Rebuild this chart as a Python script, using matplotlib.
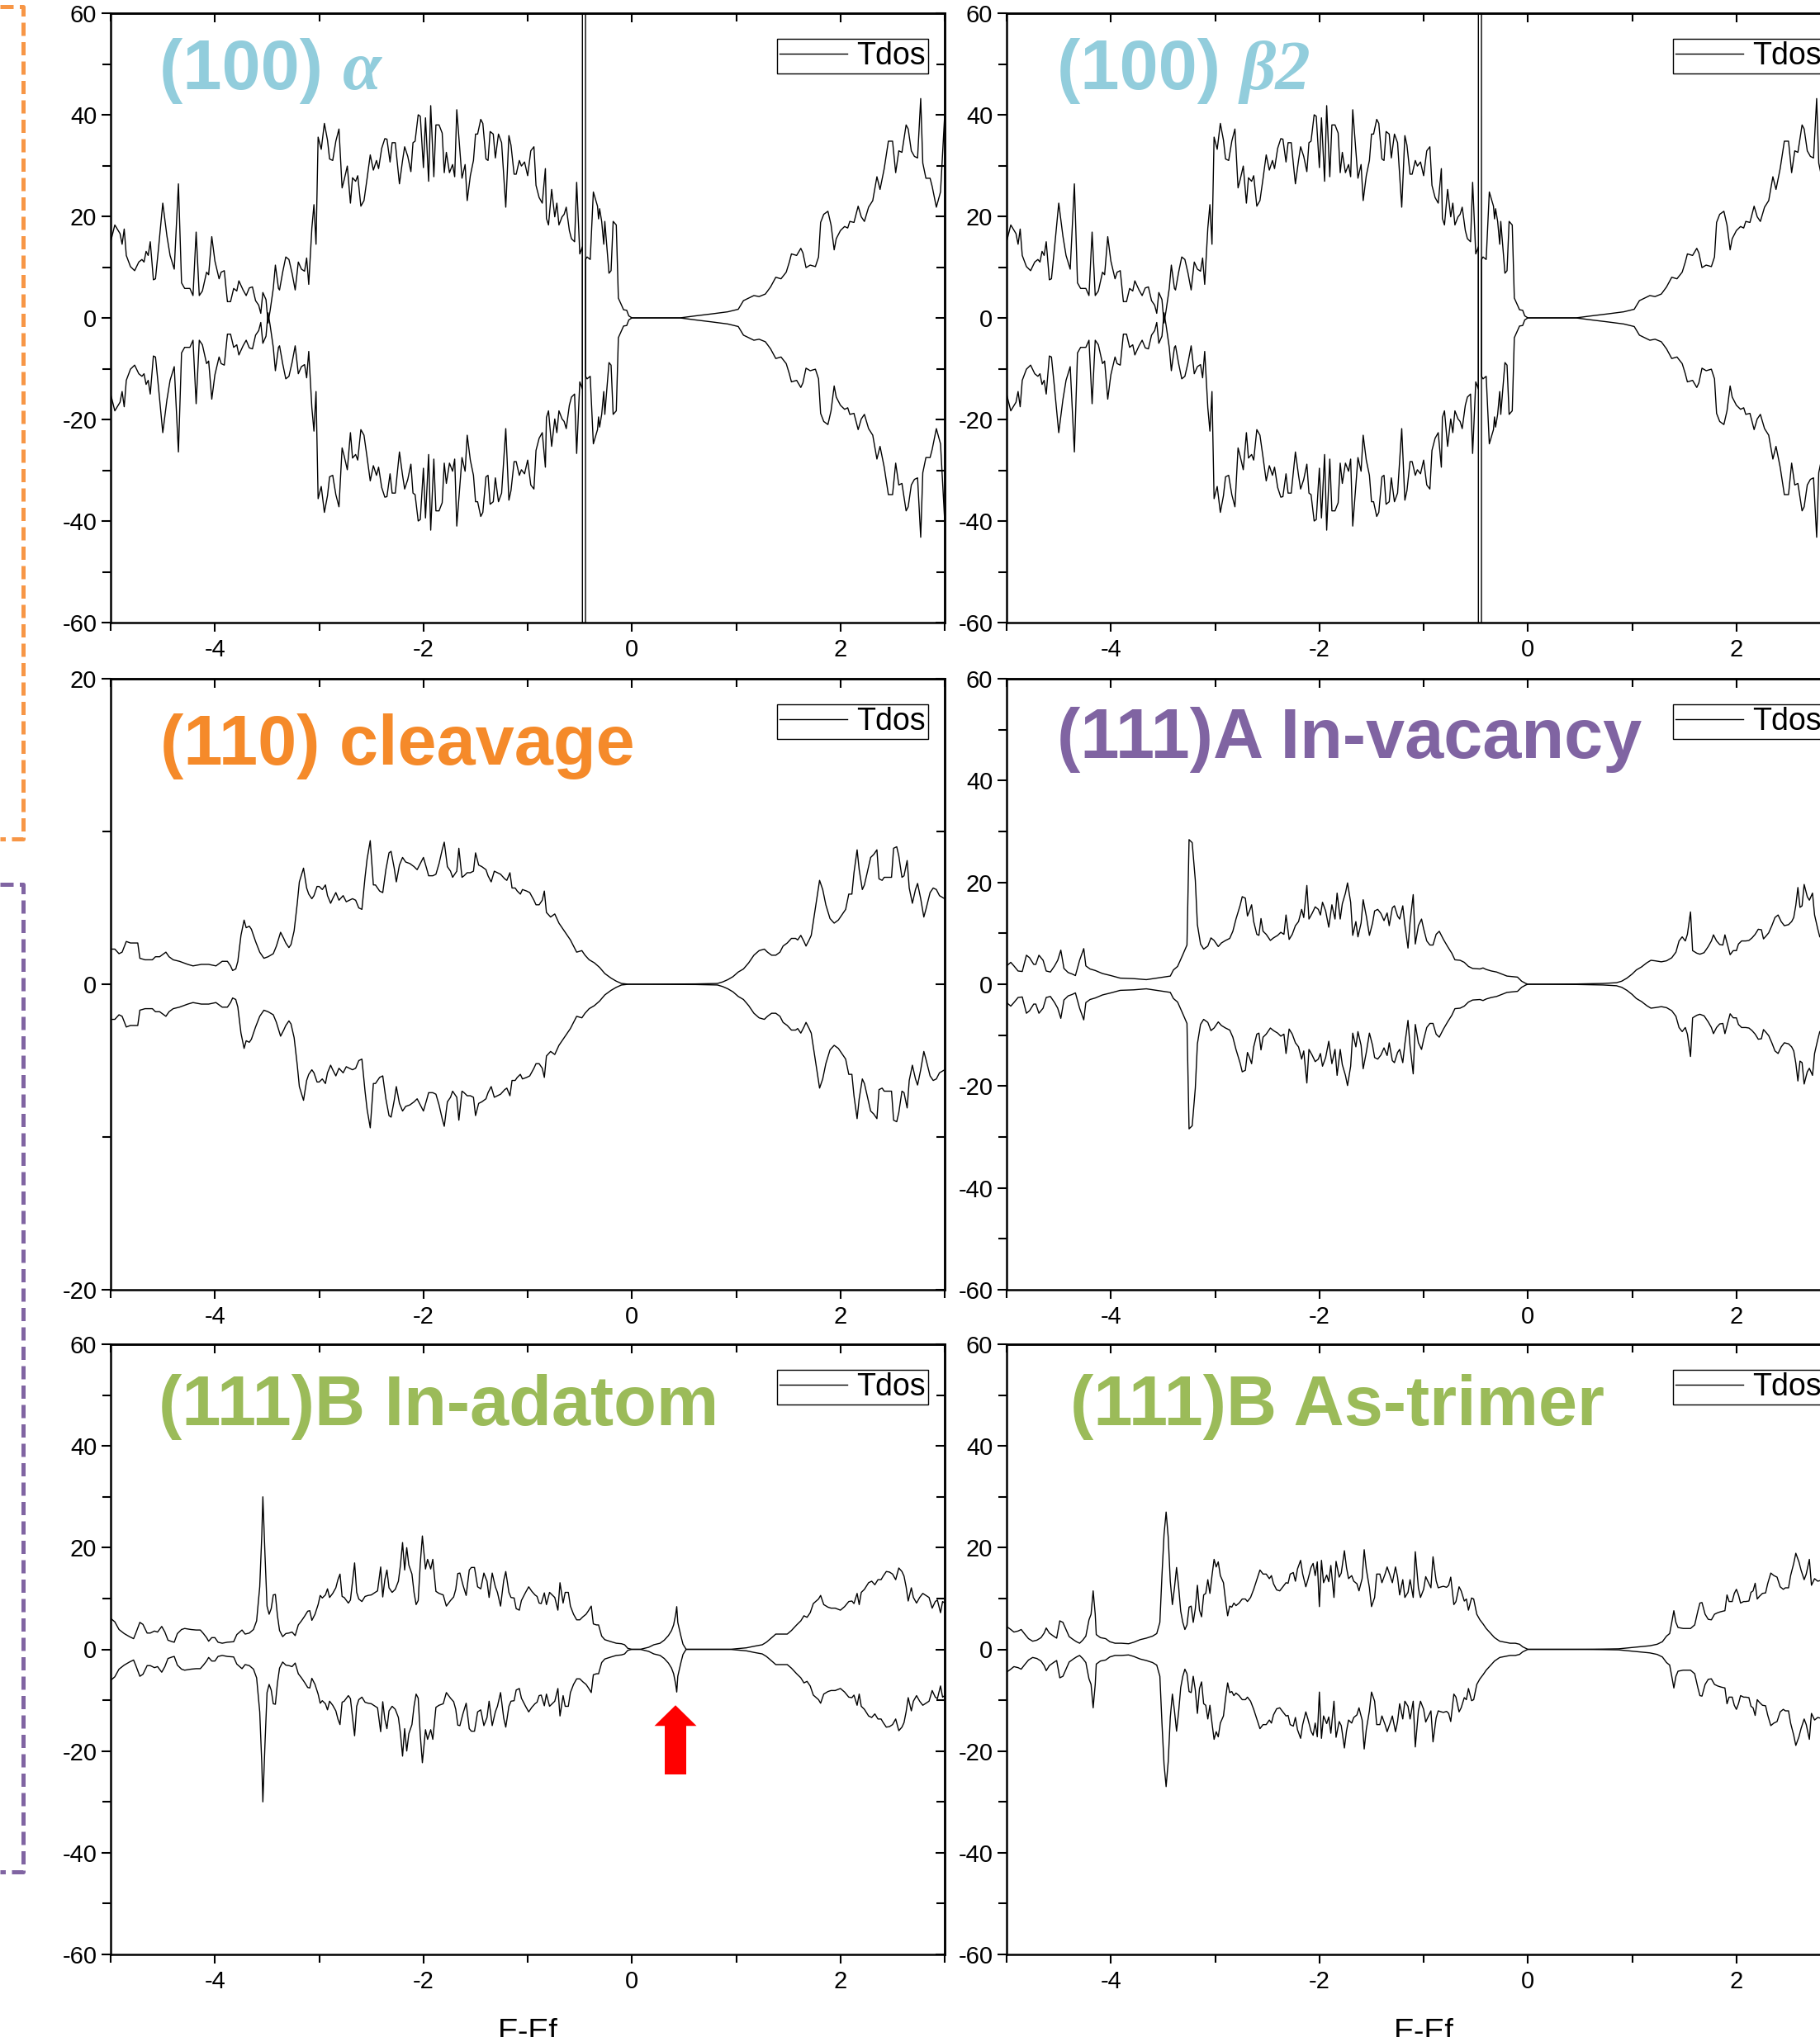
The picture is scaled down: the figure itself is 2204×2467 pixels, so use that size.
import numpy as np
import matplotlib
matplotlib.use("Agg")
import matplotlib.pyplot as plt
from matplotlib.lines import Line2D
from matplotlib.patches import FancyArrow
from matplotlib.ticker import MultipleLocator

plt.rcParams['font.family'] = ['Liberation Sans', 'DejaVu Sans']
plt.rcParams['axes.unicode_minus'] = False

# ---- data: spin-up DOS (spin-down is drawn as the mirror) ----
alpha_e = [
    -5.00, -4.96, -4.91, -4.89, -4.87, -4.85, -4.81, -4.77, -4.73, -4.70,
    -4.68, -4.66, -4.64, -4.62, -4.59, -4.57, -4.54, -4.50, -4.46, -4.43,
    -4.39, -4.35, -4.32, -4.29, -4.24, -4.21, -4.18, -4.15, -4.12, -4.08,
    -4.06, -4.03, -4.00, -3.96, -3.94, -3.91, -3.88, -3.85, -3.82, -3.79,
    -3.77, -3.73, -3.70, -3.67, -3.64, -3.61, -3.58, -3.56, -3.54, -3.51,
    -3.49, -3.47, -3.44, -3.42, -3.39, -3.38, -3.35, -3.32, -3.29, -3.26,
    -3.23, -3.20, -3.17, -3.14, -3.12, -3.10, -3.07, -3.05, -3.03, -3.01,
    -2.98, -2.95, -2.92, -2.90, -2.87, -2.84, -2.81, -2.78, -2.76, -2.73,
    -2.70, -2.68, -2.65, -2.63, -2.60, -2.57, -2.54, -2.51, -2.48, -2.45,
    -2.43, -2.40, -2.37, -2.35, -2.32, -2.30, -2.27, -2.23, -2.20, -2.18,
    -2.15, -2.12, -2.10, -2.08, -2.05, -2.03, -2.00, -1.98, -1.95, -1.93,
    -1.90, -1.88, -1.85, -1.82, -1.80, -1.78, -1.75, -1.72, -1.70, -1.68,
    -1.65, -1.63, -1.60, -1.58, -1.55, -1.52, -1.50, -1.48, -1.45, -1.43,
    -1.40, -1.38, -1.36, -1.33, -1.31, -1.28, -1.25, -1.21, -1.18, -1.16,
    -1.13, -1.11, -1.08, -1.06, -1.03, -1.00, -0.97, -0.94, -0.92, -0.89,
    -0.86, -0.83, -0.82, -0.80, -0.77, -0.74, -0.72, -0.70, -0.67, -0.65,
    -0.63, -0.60, -0.58, -0.55, -0.53, -0.50, -0.475, -0.46, -0.445, -0.43,
    -0.40, -0.37, -0.33, -0.32, -0.31, -0.29, -0.27, -0.26, -0.22, -0.20,
    -0.18, -0.15, -0.13, -0.10, -0.08, -0.05, -0.03, 0.00, 0.46, 0.61,
    0.77, 0.92, 1.02, 1.07, 1.12, 1.17, 1.22, 1.28, 1.33, 1.38,
    1.43, 1.48, 1.51, 1.53, 1.58, 1.62, 1.64, 1.67, 1.71, 1.76,
    1.79, 1.81, 1.84, 1.88, 1.91, 1.94, 1.96, 2.00, 2.04, 2.07,
    2.09, 2.13, 2.17, 2.20, 2.23, 2.27, 2.31, 2.35, 2.38, 2.42,
    2.46, 2.50, 2.53, 2.56, 2.59, 2.63, 2.65, 2.68, 2.71, 2.74,
    2.77, 2.79, 2.82, 2.86, 2.88, 2.92, 2.96, 3.00]
alpha_dos = [
    15, 18.3, 16.6, 14.5, 17.5, 12.3, 10.1, 9.3, 11, 11.5,
    11, 13.1, 12.3, 15, 7.5, 7.7, 13.9, 22.6, 16.1, 12.3,
    9.6, 26.4, 6.9, 5.8, 5.8, 4.4, 16.9, 4.4, 5.3, 9,
    8.5, 16, 11.2, 7.7, 9, 9.3, 3.2, 3.2, 5.8, 5.3,
    7.3, 5.5, 4.4, 5.9, 6.1, 3.4, 2.5, 0.9, 5, 3.6,
    -1.0, 1.5, 5.8, 10.4, 5.8, 5.5, 9, 12, 11.5, 8.8,
    5.5, 11, 9.6, 9.2, 11.8, 6.6, 17.7, 22.3, 14.5, 35.6,
    33.2, 38.3, 35, 31.3, 31, 34.8, 37.2, 25.6, 27.2, 29.9,
    22.6, 27.6, 26.9, 28, 22, 23.1, 27.5, 32.1, 29.1, 31,
    29.4, 33.4, 35.3, 35.2, 30.7, 34.5, 34.5, 26.4, 31, 33.7,
    31.8, 28.8, 34.5, 34.8, 40, 39.7, 29.6, 39.4, 26.9, 41.8,
    27.8, 38, 38, 36.4, 28.6, 32.6, 28.6, 30.2, 27.8, 41,
    32.9, 27.5, 30.2, 23.1, 28, 31, 36.2, 36.2, 39.1, 38.3,
    31.3, 31, 36.7, 36.2, 31.5, 36.2, 34.5, 21.8, 35.9, 34,
    28.3, 28.3, 31, 29.9, 30.7, 28, 32.9, 33.7, 26.1, 23.7,
    22.6, 29.4, 19.6, 18.3, 25.3, 19.9, 22.6, 18.3, 19.9, 20.4,
    21.8, 17.2, 15.6, 15, 26.7, 12.6, 14, -5000, 11.5, 12,
    11.5, 24.8, 22, 19.5, 21.5, 19, 14.5, 19, 8.8, 9.3,
    19, 18.3, 3.9, 2.5, 1.6, 1.5, 0.4, 0, 0, 0.4,
    0.8, 1.2, 1.7, 3.4, 3.9, 4.4, 4.2, 4.7, 6.1, 8.0,
    7.7, 9.0, 11, 12.6, 12.3, 13.7, 12.8, 9.9, 10.4, 10.1,
    12, 18.8, 20.4, 21, 18.3, 13.4, 15.6, 17.2, 18, 17.7,
    19, 18.8, 22, 19.9, 19, 21.8, 23.1, 27.8, 25.3, 29.4,
    34.8, 34.8, 28.6, 32.9, 32.6, 38, 37.2, 32.9, 31.8, 31.5,
    43.2, 30.5, 27.5, 27.5, 25.9, 21.8, 24.8, 40]

# the (100) beta2 panel shows the same curve as (100) alpha
beta2_e = list(alpha_e)
beta2_dos = list(alpha_dos)

cleavage_e = [
    -5.00, -4.96, -4.92, -4.89, -4.85, -4.81, -4.74, -4.72, -4.67, -4.60,
    -4.57, -4.53, -4.51, -4.47, -4.44, -4.40, -4.34, -4.26, -4.21, -4.13,
    -4.06, -3.99, -3.93, -3.88, -3.85, -3.83, -3.80, -3.78, -3.75, -3.72,
    -3.70, -3.67, -3.65, -3.61, -3.57, -3.53, -3.49, -3.44, -3.41, -3.37,
    -3.34, -3.32, -3.29, -3.27, -3.24, -3.21, -3.19, -3.15, -3.12, -3.10,
    -3.07, -3.05, -3.02, -3.00, -2.97, -2.94, -2.92, -2.89, -2.87, -2.84,
    -2.81, -2.77, -2.74, -2.71, -2.68, -2.65, -2.62, -2.59, -2.56, -2.54,
    -2.51, -2.48, -2.46, -2.42, -2.39, -2.36, -2.33, -2.31, -2.28, -2.26,
    -2.23, -2.20, -2.17, -2.13, -2.09, -2.06, -2.03, -2.00, -1.97, -1.95,
    -1.91, -1.88, -1.85, -1.82, -1.80, -1.77, -1.74, -1.72, -1.68, -1.66,
    -1.63, -1.61, -1.58, -1.55, -1.52, -1.50, -1.47, -1.44, -1.40, -1.38,
    -1.35, -1.32, -1.29, -1.26, -1.22, -1.20, -1.17, -1.15, -1.12, -1.10,
    -1.07, -1.05, -1.01, -0.98, -0.94, -0.92, -0.89, -0.86, -0.84, -0.82,
    -0.78, -0.74, -0.70, -0.66, -0.63, -0.59, -0.56, -0.53, -0.48, -0.45,
    -0.41, -0.36, -0.31, -0.26, -0.20, -0.15, -0.10, -0.03, 0.61, 0.82,
    0.87, 0.92, 0.97, 1.02, 1.07, 1.12, 1.17, 1.22, 1.27, 1.30,
    1.34, 1.38, 1.42, 1.45, 1.49, 1.53, 1.57, 1.59, 1.62, 1.65,
    1.67, 1.70, 1.72, 1.76, 1.80, 1.83, 1.86, 1.90, 1.94, 1.98,
    2.02, 2.05, 2.08, 2.11, 2.13, 2.16, 2.18, 2.21, 2.23, 2.26,
    2.29, 2.32, 2.35, 2.37, 2.40, 2.42, 2.46, 2.49, 2.51, 2.54,
    2.56, 2.59, 2.61, 2.64, 2.66, 2.69, 2.72, 2.74, 2.77, 2.80,
    2.82, 2.86, 2.89, 2.92, 2.95, 3.00]
cleavage_dos = [
    2.3, 2.3, 2.0, 2.1, 2.8, 2.7, 2.7, 1.7, 1.6, 1.6,
    1.8, 1.8, 1.9, 2.1, 1.8, 1.6, 1.5, 1.3, 1.2, 1.3,
    1.3, 1.2, 1.5, 1.5, 1.2, 0.9, 1.0, 1.5, 3.2, 4.2,
    3.7, 3.8, 3.6, 2.8, 2.1, 1.7, 1.8, 2.0, 2.5, 3.4,
    3.0, 2.7, 2.4, 2.6, 3.5, 5.3, 6.7, 7.6, 6.3, 5.9,
    5.6, 5.8, 6.4, 6.4, 6.2, 6.5, 5.8, 5.3, 5.6, 6.0,
    5.5, 5.8, 5.4, 5.5, 5.6, 5.5, 5.0, 4.9, 7.0, 8.2,
    9.4, 6.5, 6.5, 6.1, 6.0, 7.5, 8.6, 8.7, 7.6, 6.7,
    7.8, 8.3, 8.0, 7.9, 7.7, 7.5, 7.9, 8.3, 7.6, 7.1,
    7.1, 7.2, 7.9, 8.8, 9.3, 7.7, 7.4, 7.0, 7.4, 8.9,
    7.0, 7.1, 7.3, 7.3, 7.4, 8.6, 7.8, 7.7, 7.5, 7.1,
    6.7, 7.4, 7.3, 7.2, 6.9, 6.8, 7.3, 6.3, 6.3, 6.1,
    5.9, 6.2, 6.1, 6.0, 5.5, 5.2, 5.2, 5.5, 6.1, 4.7,
    4.4, 4.6, 4.0, 3.6, 3.3, 2.9, 2.5, 2.1, 2.2, 1.9,
    1.6, 1.4, 1.1, 0.7, 0.4, 0.2, 0.05, 0, 0.02, 0.05,
    0.15, 0.3, 0.5, 0.8, 1.0, 1.4, 1.9, 2.2, 2.3, 2.1,
    1.9, 1.9, 2.1, 2.5, 2.7, 3.0, 3.0, 2.9, 3.2, 2.8,
    2.5, 2.9, 3.2, 5.0, 6.8, 6.2, 5.2, 4.3, 4.0, 4.2,
    4.6, 4.9, 5.9, 5.9, 7.3, 8.8, 7.5, 6.2, 6.5, 7.4,
    8.3, 8.5, 8.8, 6.9, 6.8, 7.0, 7.0, 7.0, 8.9, 9.0,
    8.4, 7.0, 7.1, 8.1, 6.3, 5.3, 6.2, 6.6, 5.6, 4.4,
    4.9, 6.0, 6.3, 6.2, 5.8, 5.6]

vacancy_e = [
    -5.00, -4.96, -4.93, -4.89, -4.85, -4.81, -4.78, -4.74, -4.72, -4.69,
    -4.65, -4.62, -4.58, -4.54, -4.51, -4.48, -4.45, -4.41, -4.37, -4.34,
    -4.30, -4.26, -4.24, -4.20, -4.15, -4.08, -4.00, -3.91, -3.78, -3.66,
    -3.56, -3.43, -3.40, -3.36, -3.31, -3.27, -3.25, -3.22, -3.19, -3.17,
    -3.14, -3.11, -3.07, -3.04, -3.01, -2.97, -2.94, -2.90, -2.86, -2.83,
    -2.80, -2.76, -2.74, -2.71, -2.69, -2.67, -2.65, -2.63, -2.60, -2.58,
    -2.56, -2.54, -2.51, -2.47, -2.44, -2.40, -2.37, -2.34, -2.32, -2.29,
    -2.26, -2.23, -2.20, -2.17, -2.15, -2.12, -2.10, -2.07, -2.04, -2.01,
    -1.99, -1.97, -1.94, -1.91, -1.88, -1.85, -1.83, -1.80, -1.78, -1.75,
    -1.73, -1.70, -1.68, -1.65, -1.63, -1.60, -1.58, -1.55, -1.52, -1.49,
    -1.47, -1.44, -1.41, -1.38, -1.35, -1.33, -1.30, -1.28, -1.25, -1.23,
    -1.20, -1.18, -1.15, -1.13, -1.10, -1.08, -1.05, -1.02, -1.00, -0.97,
    -0.94, -0.91, -0.88, -0.85, -0.81, -0.77, -0.73, -0.70, -0.65, -0.61,
    -0.57, -0.53, -0.46, -0.43, -0.40, -0.35, -0.30, -0.25, -0.20, -0.15,
    -0.10, -0.06, -0.02, 0.00, 0.47, 0.72, 0.85, 0.90, 0.95, 1.00,
    1.04, 1.09, 1.14, 1.18, 1.22, 1.28, 1.33, 1.38, 1.42, 1.45,
    1.48, 1.51, 1.53, 1.56, 1.58, 1.62, 1.65, 1.69, 1.73, 1.76,
    1.78, 1.81, 1.84, 1.87, 1.89, 1.92, 1.94, 1.97, 2.00, 2.02,
    2.05, 2.09, 2.12, 2.15, 2.18, 2.21, 2.24, 2.26, 2.29, 2.31,
    2.34, 2.37, 2.40, 2.43, 2.46, 2.50, 2.53, 2.55, 2.57, 2.59,
    2.61, 2.63, 2.65, 2.68, 2.70, 2.73, 2.75, 2.78, 2.80, 2.90,
    3.00]
vacancy_dos = [
    3.6, 4.3, 3.6, 2.6, 2.5, 5.7, 5.2, 3.9, 3.9, 5.7,
    4.7, 2.6, 2.4, 3.6, 4.7, 6.7, 3.1, 2.3, 2.0, 1.7,
    4.7, 7.0, 3.6, 3.0, 2.7, 2.1, 1.7, 1.2, 1.1, 0.9,
    1.2, 1.6, 2.8, 3.5, 5.8, 7.7, 28.4, 27.8, 20.4, 11.7,
    7.9, 6.9, 7.5, 9.1, 8.6, 7.4, 8.1, 8.6, 9.0, 10.4,
    12.8, 15.5, 17.2, 16.9, 13.4, 14.4, 15.6, 12.3, 9.8, 9.6,
    12.9, 10.4, 9.8, 8.6, 9.1, 9.6, 10.2, 9.8, 13.6, 8.8,
    9.8, 11.5, 12.3, 14.7, 13.1, 19.4, 12.8, 13.9, 15.2, 14.7,
    13.6, 16.1, 14.4, 11.2, 15.6, 12.8, 17.9, 12.8, 15.8, 17.9,
    19.9, 16.1, 9.6, 12.3, 9.3, 12.0, 16.6, 13.4, 9.6, 12.0,
    14.4, 14.7, 13.9, 12.5, 14.0, 11.5, 15.0, 15.4, 13.4, 12.8,
    15.4, 11.7, 7.1, 12.2, 17.6, 7.9, 11.5, 12.8, 10.9, 8.5,
    7.7, 7.7, 9.8, 10.4, 8.8, 7.4, 6.1, 4.8, 4.7, 4.3,
    3.5, 3.1, 3.0, 3.2, 2.9, 2.6, 2.4, 2.0, 1.6, 1.5,
    1.4, 0.6, 0.15, 0, 0.05, 0.15, 0.3, 0.6, 1.2, 2.0,
    2.8, 3.4, 4.2, 4.7, 4.6, 4.4, 4.6, 5.2, 6.3, 8.5,
    9.3, 8.5, 9.8, 14.2, 6.6, 6.1, 5.9, 6.2, 7.4, 8.5,
    9.7, 8.5, 7.8, 7.7, 9.7, 7.4, 5.8, 6.6, 6.6, 7.9,
    8.5, 8.5, 8.6, 9.1, 9.8, 10.8, 10.7, 8.9, 9.6, 10.1,
    11.5, 13.1, 13.6, 12.3, 11.5, 11.7, 12.3, 13.1, 15.5, 19.0,
    15.1, 15.4, 19.6, 17.2, 16.5, 17.9, 13.6, 10.9, 9.3, 9.0,
    10.0]

adatom_e = [
    -5.00, -4.96, -4.92, -4.87, -4.82, -4.78, -4.76, -4.72, -4.69, -4.65,
    -4.62, -4.58, -4.55, -4.51, -4.48, -4.45, -4.41, -4.39, -4.36, -4.32,
    -4.29, -4.23, -4.18, -4.14, -4.11, -4.08, -4.06, -4.03, -4.00, -3.97,
    -3.93, -3.88, -3.82, -3.79, -3.74, -3.71, -3.67, -3.63, -3.60, -3.57,
    -3.55, -3.54, -3.52, -3.50, -3.48, -3.46, -3.44, -3.42, -3.40, -3.38,
    -3.35, -3.32, -3.29, -3.26, -3.23, -3.20, -3.17, -3.14, -3.11, -3.09,
    -3.07, -3.04, -3.01, -2.99, -2.97, -2.94, -2.92, -2.90, -2.87, -2.84,
    -2.82, -2.80, -2.78, -2.76, -2.72, -2.70, -2.68, -2.66, -2.64, -2.62,
    -2.59, -2.56, -2.53, -2.50, -2.47, -2.44, -2.41, -2.39, -2.37, -2.35,
    -2.33, -2.30, -2.27, -2.24, -2.22, -2.20, -2.18, -2.16, -2.14, -2.11,
    -2.09, -2.07, -2.05, -2.03, -2.01, -1.98, -1.96, -1.93, -1.91, -1.88,
    -1.85, -1.81, -1.78, -1.74, -1.71, -1.69, -1.67, -1.65, -1.62, -1.59,
    -1.56, -1.54, -1.51, -1.48, -1.45, -1.42, -1.39, -1.37, -1.34, -1.31,
    -1.29, -1.26, -1.23, -1.21, -1.18, -1.16, -1.13, -1.11, -1.08, -1.06,
    -1.02, -0.99, -0.96, -0.93, -0.91, -0.89, -0.87, -0.84, -0.82, -0.79,
    -0.77, -0.74, -0.71, -0.69, -0.66, -0.64, -0.61, -0.59, -0.56, -0.53,
    -0.50, -0.47, -0.44, -0.42, -0.39, -0.37, -0.34, -0.32, -0.29, -0.26,
    -0.20, -0.15, -0.10, -0.07, -0.04, 0.00, 0.08, 0.12, 0.16, 0.21,
    0.27, 0.31, 0.35, 0.38, 0.40, 0.42, 0.43, 0.44, 0.47, 0.49,
    0.52, 0.94, 0.97, 1.02, 1.10, 1.17, 1.25, 1.29, 1.33, 1.38,
    1.44, 1.49, 1.53, 1.58, 1.62, 1.65, 1.68, 1.71, 1.74, 1.79,
    1.81, 1.84, 1.88, 1.91, 1.95, 2.00, 2.04, 2.08, 2.11, 2.13,
    2.16, 2.18, 2.20, 2.23, 2.27, 2.30, 2.33, 2.36, 2.39, 2.41,
    2.44, 2.47, 2.50, 2.53, 2.56, 2.59, 2.61, 2.63, 2.65, 2.68,
    2.70, 2.73, 2.76, 2.79, 2.82, 2.85, 2.88, 2.91, 2.93, 2.96,
    2.98, 3.00]
adatom_dos = [
    6.1, 5.4, 3.9, 3.1, 2.5, 2.1, 3.1, 5.3, 4.9, 3.2,
    3.2, 3.6, 3.4, 4.5, 3.4, 1.8, 1.5, 1.4, 3.1, 3.9,
    4.1, 3.9, 3.8, 3.8, 3.1, 2.3, 1.6, 2.3, 2.3, 1.4,
    1.2, 1.4, 1.5, 2.9, 3.8, 3.0, 3.2, 3.9, 5.6, 12.3,
    22.6, 30.0, 18.8, 8.5, 6.9, 8.0, 10.7, 10.8, 6.6, 3.7,
    2.5, 3.1, 3.2, 3.4, 2.7, 4.8, 5.6, 6.5, 7.5, 7.6,
    5.7, 6.9, 8.8, 10.6, 10.1, 10.7, 11.9, 10.2, 11.0, 12.1,
    13.7, 14.8, 10.4, 10.2, 9.1, 9.7, 13.4, 17.0, 11.2, 9.9,
    9.4, 10.4, 10.6, 10.7, 11.1, 11.5, 16.2, 10.3, 13.7, 15.6,
    12.1, 11.2, 11.8, 13.4, 16.6, 21.0, 15.6, 20.0, 16.6, 14.8,
    11.2, 8.8, 9.6, 16.9, 22.3, 15.8, 17.7, 15.8, 17.7, 11.4,
    11.0, 10.7, 8.5, 9.6, 10.3, 11.8, 14.9, 15.0, 12.6, 10.6,
    15.6, 16.1, 16.1, 12.3, 11.9, 15.0, 13.4, 10.2, 15.0, 12.3,
    11.2, 8.5, 13.5, 15.3, 11.2, 10.2, 10.1, 8.0, 7.7, 9.6,
    11.2, 12.3, 11.4, 10.7, 10.4, 9.1, 9.0, 11.1, 8.8, 11.2,
    10.8, 10.2, 7.7, 13.1, 9.1, 11.2, 11.2, 8.5, 6.9, 5.8,
    5.8, 6.4, 6.9, 7.5, 8.5, 5.0, 4.8, 4.8, 2.6, 1.9,
    1.5, 1.2, 1.1, 0.9, 0.2, 0, 0, 0.2, 0.4, 0.9,
    1.2, 1.8, 2.7, 3.7, 4.8, 6.9, 8.4, 5.3, 2.6, 1.0,
    0, 0, 0.05, 0.15, 0.3, 0.6, 0.9, 1.4, 2.1, 3.0,
    3.0, 3.0, 3.7, 4.8, 5.6, 6.6, 6.3, 7.2, 9.0, 9.9,
    10.6, 8.8, 8.3, 8.1, 8.1, 7.7, 8.4, 9.4, 9.5, 9.0,
    11.0, 8.8, 11.2, 11.8, 13.1, 13.4, 12.7, 13.7, 13.7, 14.4,
    15.3, 15.2, 14.8, 13.7, 16.0, 15.3, 14.4, 12.3, 9.5, 12.1,
    10.2, 9.1, 10.2, 11.0, 10.6, 10.2, 8.1, 9.4, 9.7, 7.2,
    9.4, 9.1]

trimer_e = [
    -5.00, -4.96, -4.93, -4.89, -4.86, -4.83, -4.79, -4.75, -4.71, -4.67,
    -4.64, -4.62, -4.59, -4.55, -4.52, -4.49, -4.46, -4.43, -4.40, -4.36,
    -4.33, -4.30, -4.27, -4.24, -4.21, -4.19, -4.17, -4.15, -4.14, -4.10,
    -4.05, -4.01, -3.96, -3.90, -3.83, -3.78, -3.72, -3.66, -3.60, -3.56,
    -3.53, -3.51, -3.49, -3.47, -3.45, -3.43, -3.41, -3.39, -3.37, -3.35,
    -3.33, -3.31, -3.29, -3.27, -3.25, -3.23, -3.21, -3.19, -3.17, -3.15,
    -3.13, -3.11, -3.09, -3.07, -3.05, -3.03, -3.01, -2.99, -2.97, -2.95,
    -2.92, -2.90, -2.88, -2.86, -2.84, -2.82, -2.80, -2.77, -2.74, -2.71,
    -2.69, -2.66, -2.63, -2.60, -2.57, -2.54, -2.51, -2.48, -2.46, -2.44,
    -2.41, -2.38, -2.35, -2.32, -2.30, -2.28, -2.25, -2.23, -2.21, -2.18,
    -2.16, -2.13, -2.11, -2.08, -2.06, -2.04, -2.02, -2.00, -1.98, -1.96,
    -1.93, -1.91, -1.89, -1.86, -1.84, -1.81, -1.79, -1.76, -1.74, -1.72,
    -1.69, -1.67, -1.64, -1.62, -1.59, -1.57, -1.55, -1.52, -1.50, -1.47,
    -1.45, -1.42, -1.40, -1.37, -1.35, -1.32, -1.30, -1.27, -1.25, -1.23,
    -1.20, -1.18, -1.15, -1.13, -1.10, -1.08, -1.05, -1.03, -1.00, -0.98,
    -0.96, -0.93, -0.91, -0.88, -0.86, -0.83, -0.81, -0.78, -0.76, -0.74,
    -0.71, -0.69, -0.66, -0.64, -0.61, -0.59, -0.57, -0.54, -0.52, -0.49,
    -0.46, -0.43, -0.40, -0.36, -0.32, -0.27, -0.22, -0.17, -0.12, -0.08,
    -0.05, 0.00, 0.47, 0.72, 0.87, 0.97, 1.07, 1.17, 1.24, 1.29,
    1.33, 1.36, 1.38, 1.40, 1.42, 1.44, 1.49, 1.56, 1.60, 1.63,
    1.65, 1.67, 1.70, 1.73, 1.76, 1.79, 1.82, 1.85, 1.89, 1.91,
    1.93, 1.96, 1.98, 2.00, 2.02, 2.04, 2.07, 2.09, 2.12, 2.14,
    2.16, 2.18, 2.20, 2.22, 2.25, 2.28, 2.30, 2.33, 2.36, 2.39,
    2.42, 2.45, 2.47, 2.50, 2.52, 2.55, 2.57, 2.60, 2.62, 2.65,
    2.67, 2.70, 2.72, 2.75, 2.78, 2.80, 3.00]
trimer_dos = [
    4.5, 3.9, 3.4, 3.6, 3.9, 3.1, 2.1, 1.6, 1.8, 2.3,
    3.2, 4.2, 3.2, 2.6, 2.2, 5.6, 5.3, 3.9, 2.5, 1.9,
    1.5, 1.2, 1.8, 2.6, 5.8, 6.9, 11.5, 6.9, 2.9, 2.3,
    2.1, 1.5, 1.2, 1.2, 1.1, 1.4, 1.9, 2.2, 2.6, 3.1,
    5.3, 14.5, 22.6, 27.0, 22.1, 13.4, 8.8, 12.1, 16.1, 12.3,
    7.5, 5.3, 3.9, 4.8, 8.3, 8.5, 5.3, 8.0, 12.6, 7.7,
    6.4, 10.7, 11.0, 13.7, 11.0, 14.5, 17.7, 16.2, 17.2, 14.5,
    13.1, 9.6, 6.6, 8.5, 8.3, 9.1, 8.6, 9.1, 9.9, 9.9,
    9.4, 10.2, 11.8, 13.7, 15.6, 14.8, 14.8, 13.9, 14.5, 12.9,
    11.7, 11.5, 12.3, 13.1, 13.0, 14.8, 15.1, 13.4, 15.8, 17.5,
    14.8, 12.3, 13.7, 16.1, 16.9, 14.5, 17.2, 8.4, 17.5, 13.1,
    14.6, 13.3, 16.5, 10.2, 17.3, 14.2, 15.0, 19.4, 16.1, 13.9,
    14.5, 13.4, 12.9, 11.5, 13.9, 19.6, 15.8, 12.1, 8.4, 10.2,
    14.8, 14.8, 13.1, 14.8, 16.2, 14.4, 13.1, 16.2, 14.2, 10.7,
    13.7, 10.2, 11.2, 13.7, 10.2, 19.2, 12.1, 10.2, 11.8, 14.3,
    13.4, 12.1, 18.2, 13.5, 12.1, 12.3, 12.4, 12.2, 12.6, 14.2,
    8.8, 9.4, 12.3, 11.5, 9.5, 9.9, 7.7, 10.1, 9.9, 6.9,
    5.8, 5.0, 4.1, 3.2, 2.3, 1.6, 1.4, 1.2, 1.2, 1.0,
    0.5, 0, 0, 0.05, 0.1, 0.3, 0.5, 0.7, 1.0, 1.5,
    2.6, 3.1, 5.3, 7.6, 5.3, 4.3, 4.1, 4.1, 4.8, 7.5,
    9.1, 9.2, 6.9, 5.9, 5.8, 6.9, 7.2, 7.4, 7.6, 10.7,
    9.4, 9.4, 11.0, 11.8, 10.7, 9.1, 9.4, 9.4, 9.5, 11.2,
    11.5, 13.0, 9.9, 10.4, 11.0, 11.1, 12.9, 15.0, 14.5, 14.2,
    12.3, 11.8, 12.1, 12.1, 14.5, 16.9, 18.9, 17.2, 15.6, 13.7,
    14.8, 17.7, 12.6, 13.9, 13.4, 13.5, 14.0]

blue = '#92CDDC'
orange = '#F58A2A'
purple = '#8064A2'
green = '#9BBB59'

W, H = 2204, 2467
AX_W = 1010

# left px, top px, bottom px, energies, dos, ylim, title, greek part, colour, title dx, title baseline dy
panels = [
    (134, 16, 754, alpha_e, alpha_dos, 60, '(100) ', 'α', blue, 59, 92),
    (1219, 16, 754, beta2_e, beta2_dos, 60, '(100) ', 'β2', blue, 61, 92),
    (134, 822, 1562, cleavage_e, cleavage_dos, 20, '(110) cleavage', '', orange, 60, 104),
    (1219, 822, 1562, vacancy_e, vacancy_dos, 60, '(111)A In-vacancy', '', purple, 61, 96),
    (134, 1628, 2367, adatom_e, adatom_dos, 60, '(111)B In-adatom', '', green, 58, 98),
    (1219, 1628, 2367, trimer_e, trimer_dos, 60, '(111)B As-trimer', '', green, 77, 98),
]

fig = plt.figure(figsize=(W / 100, H / 100), dpi=100)
axes = []

for i, (left, top, bottom, e, d, ylim, title, greek, color, tdx, tdy) in enumerate(panels):
    h = bottom - top
    ax = fig.add_axes([left / W, 1 - bottom / H, AX_W / W, h / H])
    axes.append(ax)
    e = np.array(e)
    d = np.array(d)
    ax.plot(e, d, color='black', lw=1.0, label='Tdos')
    ax.plot(e, -d, color='black', lw=1.0)
    ax.set_xlim(-5, 3)
    ax.set_ylim(-ylim, ylim)

    ax.xaxis.set_major_locator(MultipleLocator(2))
    ax.xaxis.set_minor_locator(MultipleLocator(1))
    ax.yaxis.set_major_locator(MultipleLocator(20))
    ax.yaxis.set_minor_locator(MultipleLocator(10))
    ax.tick_params(which='both', direction='out', width=1.5, labelsize=21)
    ax.tick_params(which='major', length=8)
    ax.tick_params(which='minor', length=7)
    ax.tick_params(axis='x', pad=5.5)
    ax.tick_params(axis='y', pad=4)
    for s in ax.spines.values():
        s.set_linewidth(1.8)

    # Origin-style inward ticks on the top and right sides
    sx = ax.secondary_xaxis('top')
    sx.xaxis.set_major_locator(MultipleLocator(2))
    sx.xaxis.set_minor_locator(MultipleLocator(1))
    sx.tick_params(which='both', direction='in', width=1.5, labeltop=False)
    sx.tick_params(which='major', length=8)
    sx.tick_params(which='minor', length=7)
    sy = ax.secondary_yaxis('right')
    sy.yaxis.set_major_locator(MultipleLocator(20))
    sy.yaxis.set_minor_locator(MultipleLocator(10))
    sy.tick_params(which='both', direction='in', width=1.5, labelright=False)
    sy.tick_params(which='major', length=8)
    sy.tick_params(which='minor', length=7)
    for sec in (sx, sy):
        for s in sec.spines.values():
            s.set_linewidth(1.8)

    leg = ax.legend(loc='upper right', bbox_to_anchor=(1 - 20 / AX_W, 1 - 31 / h),
                    borderaxespad=0, fontsize=27, frameon=True, fancybox=False,
                    edgecolor='black', framealpha=1, handlelength=2.2,
                    handletextpad=0.3, borderpad=0.08)
    leg.get_frame().set_linewidth(1.0)

    t = ax.text(tdx / AX_W, 1 - tdy / h, title, transform=ax.transAxes,
                fontsize=61, fontweight='bold', color=color, va='baseline', ha='left')
    if greek:
        ax.annotate(greek, xy=(1, 0), xycoords=t, fontsize=61, color=color,
                    fontstyle='italic', fontweight='bold', family='Liberation Serif',
                    va='bottom', ha='left')

    if bottom > 2000:
        ax.set_xlabel('E-Ef', fontsize=27, labelpad=22)

# red arrow under the small peak of the In-adatom panel
axes[4].add_patch(FancyArrow(0.418, -24.6, 0, 13.6, width=0.206, head_width=0.404,
                             head_length=4.06, length_includes_head=True,
                             color='#FF0000', lw=0))

# dashed group boxes cut at the left edge
bx = 28 / W
fig.add_artist(Line2D([0, bx, bx, 0], [1 - 8 / H, 1 - 8 / H, 1 - 1016 / H, 1 - 1016 / H],
                      transform=fig.transFigure, color='#F79646', lw=3.6, dashes=(3.2, 1.5)))
fig.add_artist(Line2D([0, bx, bx, 0], [1 - 1071 / H, 1 - 1071 / H, 1 - 2267 / H, 1 - 2267 / H],
                      transform=fig.transFigure, color='#8064A2', lw=3.6, dashes=(3.2, 1.5)))

fig.savefig('out.png', dpi=100)
